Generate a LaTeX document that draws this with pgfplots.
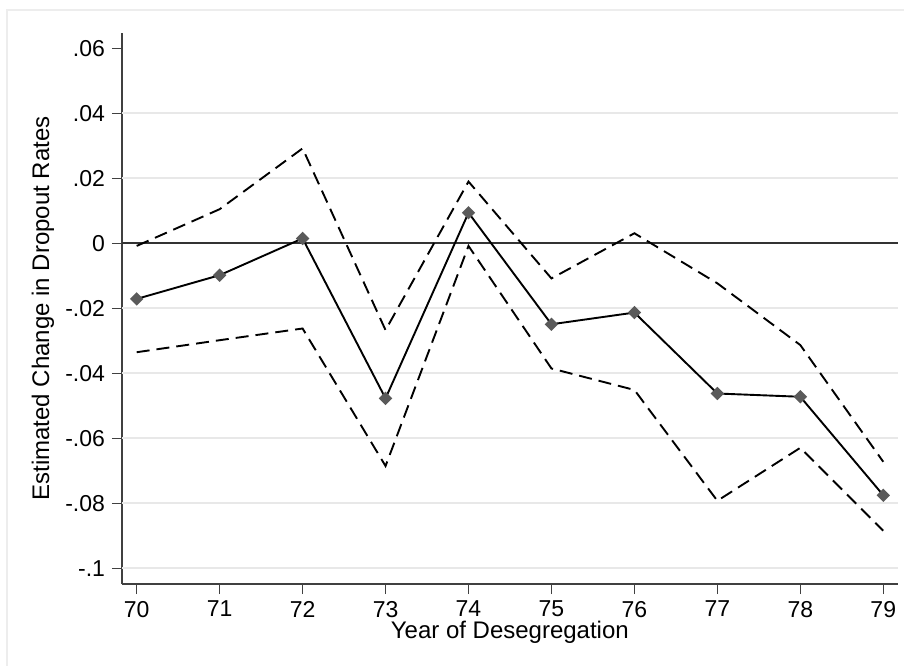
\documentclass[border=0pt]{standalone}
\usepackage{pgfplots}
\pgfplotsset{compat=1.18}
\usepackage{pgfplotstable}
\usepackage{fontspec}
\setmainfont{Liberation Sans}

\pgfplotstableread{
year est upper lower
70 -0.0171 -0.0008 -0.0335
71 -0.0098  0.0105 -0.0298
72  0.0015  0.0292 -0.0262
73 -0.0477 -0.0267 -0.0685
74  0.0094  0.0190 -0.0008
75 -0.0249 -0.0108 -0.0385
76 -0.0213  0.0031 -0.0451
77 -0.0462 -0.0123 -0.0792
78 -0.0472 -0.0313 -0.0629
79 -0.0775 -0.0672 -0.0884
}\datatable

\definecolor{gridgray}{HTML}{E8E8E8}
\definecolor{axisgray}{HTML}{404040}
\definecolor{markgray}{HTML}{5A5A5A}

\begin{document}
\begin{tikzpicture}[x=0.5pt,y=0.5pt]
\path[use as bounding box] (0,0) rectangle (904,666);
\draw[color=black!7, line width=1pt] (7,0) -- (7,656) -- (904,656);
\begin{axis}[
  at={(61pt,41pt)}, anchor=south west,
  scale only axis, width=387.85pt, height=275.5pt,
  xmin=69.823, xmax=79.174, ymin=-0.1048, ymax=0.0647,
  axis x line*=bottom, axis y line*=left,
  axis line style={color=axisgray, line width=0.75pt, -},
  xtick={70,71,72,73,74,75,76,77,78,79},
  ytick={-0.1,-0.08,-0.06,-0.04,-0.02,0,0.02,0.04,0.06},
  yticklabels={-.1,-.08,-.06,-.04,-.02,0,.02,.04,.06},
  tick align=outside, major tick length=5pt,
  tick style={color=axisgray, line width=0.65pt},
  ticklabel style={font=\fontsize{11.5}{13}\selectfont},
  /pgf/number format/assume math mode=true,
  xlabel={Year of Desegregation},
  ylabel={Estimated Change in Dropout Rates},
  label style={font=\fontsize{12}{14}\selectfont},
  ylabel style={at={(axis description cs:-0.1018,0.5)}, anchor=center},
  xlabel style={at={(axis description cs:0.5,-0.0871)}, anchor=center},
  clip=false,
]
\foreach \v in {0.04,0.02,-0.02,-0.04,-0.06,-0.08,-0.1}{
  \edef\tmp{\noexpand\draw[gridgray, line width=1pt] (axis cs:69.823,\v) -- (axis cs:79.174,\v);}
  \tmp
}
\draw[color=black!80, line width=1.1pt] (axis cs:69.823,0) -- (axis cs:79.174,0);
\addplot[black, line width=0.95pt, dash pattern=on 6.5pt off 3.5pt] table[x=year, y=upper] {\datatable};
\addplot[black, line width=0.95pt, dash pattern=on 6.5pt off 3.5pt] table[x=year, y=lower] {\datatable};
\addplot[black, line width=0.95pt, mark=square*, mark size=1.9pt,
  mark options={rotate=45, solid, fill=markgray, draw=markgray}] table[x=year, y=est] {\datatable};
\end{axis}
\end{tikzpicture}
\end{document}
